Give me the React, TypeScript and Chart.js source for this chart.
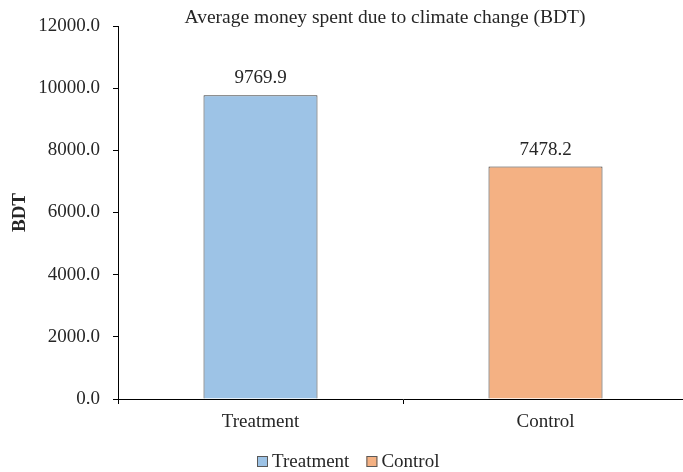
import React, { useEffect, useRef } from "react";
import { Chart, registerables } from "chart.js";

Chart.register(...registerables);

const categories = ["Treatment", "Control"];
const values = [9769.9, 7478.2];
const fills = ["#9DC3E6", "#F4B183"];
const yTicks = [0, 2000, 4000, 6000, 8000, 10000, 12000];
const titleText = "Average money spent due to climate change (BDT)";
const yTitle = "BDT";

const FONT = "Liberation Serif";
const INK = "#262626";

const overlay = {
  id: "overlay",
  afterDatasetsDraw(chart: any) {
    const { ctx, chartArea } = chart;
    ctx.save();
    ctx.fillStyle = INK;
    ctx.font = `19px ${FONT}`;
    ctx.textAlign = "center";
    ctx.textBaseline = "middle";
    // value labels above bars
    const meta = chart.getDatasetMeta(0);
    meta.data.forEach((bar: any, i: number) => {
      ctx.fillText(values[i].toFixed(1), bar.x, bar.y - 17);
    });
    // title
    ctx.font = `19.5px ${FONT}`;
    ctx.fillText(titleText, 385, 18);
    // y axis title
    ctx.save();
    ctx.translate(20, (chartArea.top + chartArea.bottom) / 2);
    ctx.rotate(-Math.PI / 2);
    ctx.font = `bold 19px ${FONT}`;
    ctx.fillText(yTitle, 0, 0);
    ctx.restore();
    // legend
    ctx.font = `19px ${FONT}`;
    ctx.textAlign = "left";
    const box = 11;
    const gap = 4;
    const spacing = 17;
    let x = 257;
    const y = 462;
    categories.forEach((c, i) => {
      ctx.fillStyle = fills[i];
      ctx.fillRect(x, y - 6, box, box);
      ctx.strokeStyle = "#595959";
      ctx.lineWidth = 1;
      ctx.strokeRect(x + 0.5, y - 6 + 0.5, box - 1, box - 1);
      ctx.fillStyle = INK;
      ctx.fillText(c, x + box + gap, y);
      x += box + gap + ctx.measureText(c).width + spacing;
    });
    ctx.restore();
  },
};

export default function App() {
  const ref = useRef<HTMLCanvasElement>(null);
  useEffect(() => {
    document.body.style.margin = "0";
    const chart = new Chart(ref.current!, {
      type: "bar",
      data: {
        labels: categories,
        datasets: [
          {
            data: values,
            backgroundColor: fills,
            borderColor: "#3a3a3a",
            borderWidth: 1,
            categoryPercentage: 0.8,
            barPercentage: 0.5,
          },
        ],
      },
      options: {
        responsive: false,
        animation: false,
        layout: { padding: { top: 26, left: 0, right: 0, bottom: 0 } },
        plugins: {
          legend: { display: false },
          title: { display: false },
          tooltip: { enabled: false },
        },
        scales: {
          x: {
            grid: {
              display: true,
              offset: true,
              drawOnChartArea: false,
              drawTicks: true,
              tickLength: 5,
              color: "#000000",
            },
            border: { display: true, color: "#000000", width: 1 },
            ticks: {
              color: INK,
              font: { family: FONT, size: 19 },
              padding: 7,
            },
            afterFit: (s: any) => {
              s.height = 73;
            },
          },
          y: {
            min: 0,
            max: 12000,
            afterBuildTicks: (s: any) => {
              s.ticks = yTicks.map((v) => ({ value: v }));
            },
            grid: {
              display: true,
              drawOnChartArea: false,
              drawTicks: true,
              tickLength: 5,
              color: "#000000",
            },
            border: { display: true, color: "#000000", width: 1 },
            ticks: {
              color: INK,
              font: { family: FONT, size: 19 },
              padding: 13,
              callback: (v: any) => Number(v).toFixed(1),
            },
            afterFit: (s: any) => {
              s.width = 118;
            },
          },
        },
      },
      plugins: [overlay],
    });
    return () => chart.destroy();
  }, []);
  return (
    <div style={{ width: 683, height: 472, overflow: "hidden" }}>
      <canvas ref={ref} width={688} height={472} style={{ display: "block" }} />
    </div>
  );
}
